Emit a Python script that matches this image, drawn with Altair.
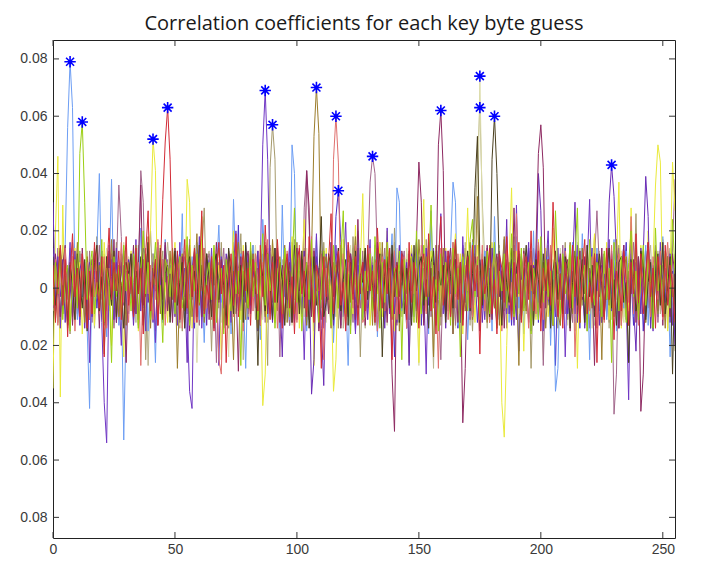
import altair as alt
import pandas as pd

title_text = "Correlation coefficients for each key byte guess"

x_ticks = [0, 50, 100, 150, 200, 250]
y_ticks = [-0.08, -0.06, -0.04, -0.02, 0, 0.02, 0.04, 0.06, 0.08]

# correlation values, in thousandths, one list per key byte (256 guesses each)
s01 = [12, -4, 7, -9, 3, 15, 56, 79, 63, 2, -11, 6, -3, 9, -14, -42,
       5, -8, 13, 40, -2, 8, -17, 4, 38, -6, 11, -13, 2, -53, -10, 7,
       -5, 14, -9, 3, 21, -7, 10, -15, 6, -1, -26, 9, 4, -12, 17, -3,
       8, -10, 2, 13, -6, 26, -14, 5, -2, 11, -8, 16, -11, 3, -19, 7,
       -4, 10, -13, 6, 22, -5, 1, -9, 14, -16, 31, 3, -7, 12, -2, -28,
       9, -6, 15, -1, 4, -18, 24, 7, -10, 2, 12, -8, 5, -14, 29, -3,
       6, -11, 50, 40, -7, 13, -2, 8, -15, 3, 11, -5, 18, -9, 1, -12,
       10, -3, 16, -19, 4, 7, -8, 14, -1, -27, 9, 5, -13, 20, -4, 2,
       -9, 12, 3, -6, 15, -17, 8, -2, 11, -7, 4, 19, -11, 35, 30, -8,
       5, -14, 9, 1, -10, 17, -5, 12, -3, 6, -16, 27, -1, 8, -12, 3,
       11, -7, 4, 14, 37, 30, -13, 6, -2, 10, -18, 3, 16, -6, 9, -11,
       2, 13, -9, 7, -15, 25, -4, 10, -8, 1, 15, -12, 6, -3, 18, -7,
       9, -16, 4, 12, -5, 20, -10, 3, 8, -14, 1, 11, -20, 6, -36, -28,
       7, -3, 13, -9, 2, 16, -12, 5, -6, 19, -1, 8, -25, 10, -4, 14,
       -8, 3, 12, -11, 6, -2, 17, -15, 9, 1, -7, 13, -4, 23, -10, 5,
       11, -6, 2, 15, -13, 8, -1, 10, -9, 4, 18, -5, 7, -24, 3, 9]
s02 = [-6, 9, -2, 14, -11, 4, 8, -15, 3, 10, -7, 47, 58, 30, -4, 6,
       13, -9, 2, -5, 17, -12, 7, 1, -26, 11, -3, 8, -10, 15, -1, 5,
       -8, 12, 4, -14, 6, 20, -2, 9, -11, 3, 16, -6, 1, -19, 10, 7,
       -3, 14, -9, 5, 11, -7, 2, 18, -13, 8, -1, 12, -5, 25, -10, 4,
       9, -4, 15, -12, 3, 7, -16, 10, 1, -8, 13, -2, 6, -27, 11, 2,
       -7, 16, -3, 9, -11, 4, 19, -6, 12, -1, 8, -14, 5, 10, -9, 14,
       3, -10, 7, 28, -5, 12, -15, 2, 9, -4, 17, -8, 6, -12, 1, 13,
       -2, 8, -13, 15, 4, -7, 11, 27, -9, 5, -16, 10, 2, -6, 14, -11,
       6, -1, 12, -8, 18, 3, -14, 9, -5, 16, 1, -10, 7, -3, 13, -25,
       10, -6, 4, 11, -12, 20, 2, -9, 15, -4, 8, 29, -7, 3, -15, 12,
       -5, 9, 1, -13, 14, -2, 7, -24, 11, 4, -8, 17, 24, -3, 10, -11,
       8, -4, 13, -9, 2, 16, -14, 6, -1, 12, -7, 3, 19, -10, 5, -2,
       14, -8, 3, 9, -16, 7, 1, -11, 18, -5, 10, -3, 6, -13, 27, 4,
       -9, 12, -2, 5, 15, -7, 11, 28, -12, 3, 8, -15, 17, 1, -6, 9,
       2, -10, 13, -4, 7, -26, 16, 5, -8, 11, 1, -12, 9, 20, -3, 6,
       -11, 4, 15, -6, 10, 2, -14, 21, -1, 8, -9, 13, 3, -7, 24, 5]
s03 = [-35, 20, 46, -38, 29, -9, 6, -12, 3, 14, -5, 9, -16, 2, 11, -7,
       4, -13, 10, 1, -8, 16, -3, 7, -20, 12, 5, -10, 2, -24, 8, -4,
       13, -6, 9, -15, 3, 18, -11, 6, 21, 52, 41, -9, 15, -5, 2, -12,
       7, -3, 16, -10, 4, 12, -8, 38, 30, -14, 1, 9, -6, 17, -2, 11,
       -9, 5, 14, -4, 8, -25, 2, 11, -13, 6, 20, -7, 3, -11, 15, 1,
       -6, 12, -2, 9, -15, 4, -41, -30, 10, -5, 16, -12, 7, 1, -8, 14,
       3, -10, 18, -4, 11, -14, 6, 24, -8, 2, 13, -27, 9, -1, 5, -11,
       14, -7, 3, -36, -25, 10, -3, 17, -12, 6, 1, -9, 22, -5, 8, 33,
       -4, 11, -13, 5, 9, -2, 16, -10, 3, 20, -7, 12, -15, 4, -1, 8,
       10, -12, 6, 15, -5, 2, -26, 11, 31, -8, 4, 13, -3, 9, -14, 1,
       -7, 14, 3, -10, 8, 19, -4, 12, -16, 5, 28, -2, 9, -12, 15, 6,
       2, -9, 11, -5, 16, 4, -13, 7, -40, -52, -20, 10, 35, -6, 13, -3,
       8, -22, 5, 12, -1, 9, -11, 17, -6, 3, 14, -10, 1, 21, -8, 6,
       -13, 4, 10, -7, 15, -2, 8, -28, 11, 3, -5, 13, -9, 6, 19, -4,
       12, -6, 2, 16, -11, 7, -3, 9, 37, -14, 5, 11, -8, 28, -1, 4,
       -10, 15, 3, -7, 20, -2, 9, 36, 50, 44, -5, 12, -15, 6, 44, 27]
s04 = [8, -12, 3, 15, -6, 10, -17, 4, 19, -3, 7, -10, 12, 1, -14, 6,
       -9, 16, 2, -7, 11, -24, 5, 21, -4, 9, -1, 13, -11, 3, 18, -6,
       4, -10, 14, -2, 7, -16, 12, 27, -8, 3, 10, -13, 6, 31, 51, 63,
       45, 8, -5, 13, -11, 2, 17, -7, 9, -3, 14, -12, 5, 27, -9, 1,
       -4, 11, -15, 6, 16, -2, 8, -26, 3, 12, -6, 19, -10, 4, 13, -1,
       7, -13, 10, 1, -8, 15, -3, 22, 5, -11, 9, -5, 17, 2, -14, 6,
       12, -7, 4, -16, 9, 14, -2, 6, -10, 18, 1, -12, 8, 3, -28, 11,
       -3, 10, 26, -9, 5, 13, -6, 2, -15, 16, 7, -4, 11, -13, 4, 9,
       -8, 15, -1, 6, -12, 21, 3, -7, 10, -2, 14, -25, 5, 8, -9, 12,
       2, -11, 16, -5, 9, 1, -14, 7, 12, -3, 19, -8, 4, -16, 10, 25,
       -6, 3, 13, -10, 6, 17, -4, 9, -13, 2, 11, -7, 15, -1, 8, -23,
       10, -2, 5, 14, -9, 3, -16, 12, 7, -5, 18, 1, -11, 9, -3, 16,
       -12, 6, 11, -4, 20, -8, 2, 13, -15, 7, -1, 10, -6, 30, 4, -10,
       5, -14, 9, 1, -7, 15, -3, 11, -12, 6, 17, -9, 2, -5, 12, -26,
       8, 2, -11, 14, -4, 10, -18, 6, 1, -8, 13, 3, -13, 9, -2, 19,
       -5, 12, -9, 4, 16, -3, 7, -14, 11, 2, -10, 15, -6, 8, 1, -12]
s05 = [30, -6, 11, -14, 4, 9, -2, 16, -10, 7, 1, -13, 12, -5, 8, -26,
       6, 13, -3, 9, -12, -40, -54, 5, 10, -7, 14, -2, -20, 8, -9, 3,
       11, -5, 17, -11, 2, 8, -15, 12, -1, 6, -19, 10, 4, -8, 15, -3,
       -7, 9, 1, -13, 16, -4, 7, -10, -36, -42, 12, -2, 18, -14, 5, 10,
       -2, 14, -9, 4, -27, 11, 3, -6, 13, -12, 8, 20, -5, 2, -11, 15,
       6, -8, 12, 1, -15, 9, 50, 69, 45, 3, -10, 14, -4, 7, -13, 10,
       -1, 16, -7, 5, -11, 13, 2, -25, 9, -3, 11, -9, 19, -6, 4, -14,
       12, -4, 8, -10, 15, 1, -13, 6, 23, -8, 3, 10, -16, 14, -2, 7,
       -11, 5, 17, -6, 9, -15, 2, 12, -3, 21, -9, 4, 13, -12, 6, 1,
       8, -14, 3, 11, -5, 16, -10, 7, 1, -30, 10, -2, 14, -7, 5, 26,
       -9, 13, -1, 6, -16, 9, 4, -12, 18, -5, 11, 2, -8, 15, -3, 10,
       3, -11, 14, -6, 8, 1, -14, 12, -4, 17, -9, 5, 10, -13, 29, -2,
       11, -7, 4, 16, -12, 2, 9, -5, 13, -15, 6, 20, -8, 3, -10, 14,
       -4, 10, -24, 7, 1, 12, -9, 15, -2, 5, -13, 8, 31, -6, 11, -1,
       9, -12, 5, -3, 17, -8, 2, 13, -14, 6, 10, -5, -39, 15, -9, 4,
       -6, 14, 1, -10, 8, 3, -15, 11, -4, 16, -8, 6, -1, 12, -13, 9]
s06 = [-3, 9, -12, 6, 15, -7, 2, -16, 11, 4, -9, 13, -1, 7, -14, 10,
       5, -10, 18, -4, 8, -13, 3, 12, -6, 1, 16, -11, 7, -2, 14, -8,
       12, 2, -9, 15, -5, 10, -25, 6, 20, -3, 8, -12, 4, 13, -7, 1,
       -10, 7, 14, -2, 11, -15, 5, -8, 17, 2, -11, 9, -4, 12, 28, -6,
       4, -22, 8, 1, -7, 16, -3, 10, -14, 6, 13, -9, 2, 19, -5, 11,
       -8, 3, 15, -11, 7, -4, 12, 2, -27, 42, 57, 45, -6, 9, 1, -12,
       10, -5, 3, 17, -9, 6, -2, 14, -12, 8, 1, -15, 11, 4, -7, 16,
       -1, 12, -10, 5, 9, -14, 7, 2, -6, 13, -11, 18, -3, 8, -24, 6,
       14, -7, 2, 11, -13, 4, 16, -5, 9, -1, 12, -9, 21, 3, -12, 7,
       -4, 10, -26, 8, 1, 13, -8, 5, -11, 17, 3, -6, 10, -2, 15, -13,
       6, 1, 11, -9, 16, -3, 8, -12, 4, 14, -7, 2, -15, 10, 5, -4,
       12, -10, 3, 7, -5, 15, -13, 9, 1, -8, 13, -2, 6, 18, -11, 4,
       -7, 14, -1, 10, -28, 5, 11, -4, 8, -12, 2, 15, -9, 6, 1, -14,
       9, -3, 16, -11, 4, 12, -8, 2, 13, -6, 10, -15, 7, -1, 18, -10,
       3, 11, -7, 14, -12, 6, 1, -9, 15, -4, 9, 2, -13, 12, -5, 26,
       -11, 6, 13, -3, 8, -14, 4, 10, -7, 1, 17, -10, 5, 14, -2, -22]
s07 = [7, -11, 4, 13, -5, 10, -14, 2, 9, -3, 16, -8, 6, -12, 11, 1,
       -9, 14, -2, 8, 3, -23, 11, -6, 17, -1, 5, -10, 12, 4, -13, 9,
       2, -7, 15, -11, 6, 10, -3, 18, -14, 7, -1, 13, -9, 4, 11, -5,
       13, -4, 9, -28, 1, 12, -8, 5, 15, -10, 3, 19, -6, 8, -12, 2,
       -5, 10, -13, 7, 14, -2, 4, -9, 11, 1, -25, 8, 16, -4, 6, -11,
       9, -3, 12, 5, -14, 8, 1, -10, 13, -6, 17, 2, -8, 11, -1, 15,
       -12, 6, 3, -9, 16, -5, 10, 1, -13, 7, 12, 53, 70, 54, -4, 8,
       11, -2, -14, 9, 4, -7, 15, 2, -11, 13, -5, 6, 18, -9, 3, -1,
       -6, 12, 7, -13, 10, 1, -4, 16, -8, 5, 14, -11, 3, 9, -15, 6,
       4, -9, 13, -1, 8, -12, 17, 3, -6, 11, -3, 7, -24, 15, 2, -10,
       14, -5, 1, 10, -16, 6, 9, -2, 12, -8, 4, 16, -11, 3, 32, -6,
       -3, 8, -12, 15, 2, -7, 11, -13, 5, 18, -1, 9, -10, 13, 4, -27,
       10, 3, -8, 6, 13, -11, 1, 15, -5, 9, -14, 2, 11, -3, 7, -9,
       -13, 11, 5, -4, 16, -9, 8, 1, -12, 14, -2, 10, 4, -7, 12, 3,
       7, -25, 12, 2, -6, 9, -10, 17, 3, -13, 6, 11, -4, 8, -1, 14,
       -8, 4, 10, -12, 15, 1, -5, 13, -9, 6, 2, -14, 11, 5, -3, 9]
s08 = [-4, 10, -13, 6, 1, 14, -8, 3, 11, -15, 7, -2, 12, -6, 9, -11,
       8, -3, 15, -9, 4, 11, -14, 7, -1, 13, -10, 2, 16, -5, 6, -12,
       12, -7, 3, 9, -27, 5, 14, -2, 8, -11, 1, 17, -6, 10, -13, 4,
       -9, 13, 6, -4, 11, -14, 2, 15, -8, 7, -12, 3, 10, -1, 14, -7,
       5, -11, 9, 2, -25, -30, 8, -6, 13, 1, -10, 16, -3, 7, -15, 11,
       -2, 14, -8, 12, 3, -13, 9, -5, 17, -9, 4, 10, -14, 6, 1, -11,
       13, -6, 2, 8, -12, 15, -3, 11, -7, 5, 18, -10, 4, -1, 12, -25,
       7, 1, -9, 45, 60, 44, -5, 12, -13, 9, 2, -7, 15, -4, 10, -12,
       -10, 6, 14, -3, 9, -15, 4, 11, -8, 16, 1, -6, 13, -11, 5, 2,
       11, -14, 5, 10, -2, 7, -12, 15, 3, -9, 12, -4, 8, 1, -28, 14,
       -5, 9, -11, 3, 16, -7, 12, 2, -13, 8, -1, 14, -10, 6, 11, -3,
       15, -8, 4, -12, 7, 11, -2, 9, -15, 5, 13, -6, 2, -10, 26, 1,
       -7, 12, 1, -14, 10, 3, -9, 16, 6, -11, 8, -4, 15, -13, 4, 9,
       2, -10, 13, 7, -5, 14, -24, 4, 10, -3, 6, 12, -8, 11, -2, -14,
       10, 5, -12, 8, -1, 15, -7, 3, 12, -13, 9, 1, -5, 25, -9, 6,
       -13, 8, 3, -6, 14, -10, 11, 2, -4, 13, -11, 7, 16, -2, 5, -8]
s09 = [5, -8, 2, 11, -4, 7, -10, 3, 9, -6, 1, 12, -3, 6, -9, 4,
       -2, 10, -7, 5, 13, -11, 3, -5, 8, 1, -12, 6, 11, -4, 2, -9,
       9, -3, 6, -13, 4, 10, -1, 7, -8, 12, 2, -6, 5, -10, 14, -2,
       -6, 11, 1, -9, 7, 3, -12, 10, -4, 6, -14, 8, 2, -7, 12, 4,
       10, -5, 13, -2, 6, -10, 4, 8, -13, 1, 9, -3, 22, -8, 5, -1,
       -11, 7, 2, 12, -6, 9, -1, 4, -9, 14, 3, -12, 7, 1, -5, 11,
       3, -13, 8, -4, 10, 2, -7, 13, 5, -10, 6, -2, 9, -14, 4, 12,
       -8, 6, 11, -1, 25, 34, 16, -10, 7, 2, -13, 10, -5, 8, 3, -11,
       12, -4, 1, 9, -12, 5, 14, -7, 3, -9, 11, 6, -24, 4, -2, 10,
       -3, 8, -11, 14, 2, -6, 10, -13, 7, 1, 12, -8, 5, -4, 13, -1,
       6, -10, 4, -2, 11, 8, -14, 3, 9, -5, 1, 15, -9, 7, -12, 2,
       -7, 13, -3, 6, -9, 12, 1, -11, 5, 10, -4, 2, -13, 9, 6, -22,
       11, 2, -8, 14, -5, 3, 9, -12, 4, -1, 13, -6, 8, 1, -27, 7,
       -4, 9, 5, -10, 12, -2, 6, 3, -14, 11, 7, -9, 2, 14, -6, 1,
       8, -12, 3, 10, -7, 13, -1, 5, -11, 6, 2, 16, -8, 4, -13, 9,
       -1, 7, -15, 4, 11, -5, 8, 2, -10, 12, -3, 6, 13, -9, 1, 10]
s10 = [9, -5, 14, -10, 3, 8, -13, 1, 16, -7, 4, -11, 10, 2, -8, 13,
       -12, 6, 1, 15, -4, 10, -9, 3, 12, -14, 7, 36, 18, -6, 9, -2,
       4, -11, 11, 2, 41, 30, -7, 12, -3, 9, -15, 5, 13, -8, 1, 10,
       -6, 14, -1, 7, -12, 3, 11, -9, 17, -4, 6, 1, -13, 10, -2, 8,
       12, -8, 5, -26, 9, 2, 14, -6, 4, -11, 16, -3, 7, 12, -10, 3,
       -9, 11, 3, -7, 13, -2, 8, -12, 6, 15, -5, 1, 10, -24, 4, 9,
       2, -13, 16, 6, -4, 11, -10, 28, 41, 22, -8, 14, -1, 7, -11, 5,
       10, -6, 3, -14, 8, 12, -3, 5, -9, 15, 1, -12, 9, 4, -7, 13,
       -5, 8, 37, 46, 40, 10, -11, 3, 14, -8, 6, -2, 11, -13, 1, 7,
       13, -9, 2, 10, -6, 15, -12, 4, 9, -1, 16, -10, 5, 11, -4, -25,
       6, 11, -8, 3, 14, -13, 1, 9, -5, 12, 4, -11, 17, -2, 8, -7,
       -3, 10, 5, -12, 7, 1, -9, 13, -4, 11, -14, 6, 2, 15, -8, 3,
       12, -6, 8, 2, -11, 14, 4, -7, 10, -27, 6, 1, 13, -3, 9, -10,
       -1, 15, -9, 7, 3, -12, 11, 5, -6, 13, -2, 8, -14, 4, 10, 27,
       7, -4, 12, -10, 1, 9, -44, -30, 14, -8, 5, 11, -13, 3, 16, -5,
       -10, 6, 2, 13, -7, 10, -3, 15, -12, 4, 8, -1, 11, -9, 14, 38]
s11 = [-7, 12, 3, -10, 8, 15, -4, 9, -13, 5, 1, -9, 14, -2, 7, -11,
       10, -3, 6, -14, 11, 2, -8, 13, -5, 17, -12, 4, 9, -1, -26, 6,
       -2, 15, -9, 8, 36, -6, 12, 1, -11, 7, 3, -13, 10, -4, 16, -8,
       5, -12, 14, 2, -7, 11, -3, 9, -15, 6, 13, -1, 8, -10, 4, 12,
       -11, 7, 1, 16, -5, 10, -14, 3, 12, -8, 6, 2, -29, 11, -3, 9,
       13, -6, 10, -2, 7, -13, 4, 15, -9, 1, 11, -5, 14, -12, 8, 3,
       -4, 9, -12, 6, 14, -1, 10, -7, 41, 28, -10, 13, 4, -15, 7, 11,
       2, -9, 16, -3, 8, 5, -14, 10, 1, -6, 12, 3, -11, 24, -2, 9,
       -13, 6, 11, -5, 2, 14, -8, 10, 4, -12, 7, -30, -50, 9, -3, 13,
       8, -2, 12, -10, 5, 16, 44, 30, -13, 6, 11, -4, 9, 1, 50, 62,
       41, -9, 7, 14, -4, 10, -12, 3, -47, -28, 8, 13, -6, 11, 2, -15,
       9, -5, 15, 1, -11, 7, 12, -3, 6, -14, 10, 4, -8, 28, -1, 11,
       -6, 13, 3, -12, 9, -2, 14, 47, 57, 42, -7, 10, 1, -13, 8, 5,
       12, -8, 4, 10, -15, 6, 2, -9, 13, -4, 11, -11, 7, 3, -27, 9,
       -3, 14, -10, 8, 1, 12, -5, 9, -14, 4, 15, -7, 6, -2, 10, -12,
       11, -43, -30, 6, 16, -8, 3, 13, -4, 9, -13, 7, 1, -10, 12, 4]
s12 = [6, -10, 13, 2, -7, 11, -3, 8, -12, 4, 15, -6, 1, 9, -14, 7,
       -4, 12, -1, 9, -11, 5, 14, -8, 3, -13, 10, 2, -6, 16, -2, 11,
       8, -5, 10, -14, 6, 1, -9, 13, 4, -7, 11, -2, 15, -12, 5, -3,
       12, 2, -8, 7, -13, 14, 3, -6, 10, -1, 9, -26, 4, 11, -5, 6,
       -9, 13, 5, -3, 10, -12, 8, 1, -24, 7, 12, -4, 2, 14, -10, 3,
       11, -7, 4, 15, -2, 9, -11, 6, -5, 13, 1, -9, 16, -3, 8, -13,
       3, 10, -13, 5, 12, -6, 2, -10, 14, 1, -8, 11, -4, 7, 13, -2,
       -12, 6, 9, -4, 11, 3, -14, 12, 7, -9, 15, -1, 5, -11, 10, 2,
       8, -3, 13, -10, 4, 16, -7, 1, 11, -13, 6, 9, -2, 14, -9, 5,
       -6, 14, 2, -11, 9, 4, -27, 10, -1, 7, 12, -8, 3, -12, 13, -4,
       10, -2, 7, -9, 15, -14, 5, 11, -6, 2, 13, -10, 8, 1, 20, 74,
       25, -6, 12, -11, 4, 9, -3, 14, -8, 6, -13, 1, 10, -5, 15, -9,
       5, 11, -7, 3, 13, -12, 8, -1, 6, -25, 12, 2, -9, 10, 4, -11,
       14, -4, 9, -13, 1, 7, -10, 16, 3, -6, 11, -2, 13, -14, 6, 8,
       -8, 12, 2, -5, 15, -11, 4, 9, -3, 13, -12, 7, 1, 10, -7, 3,
       11, -9, 6, 14, -2, 5, -13, 8, 12, -4, 1, -10, 15, 3, -6, 9]
s13 = [-8, 4, 11, -13, 7, 2, -6, 14, -10, 9, 3, -12, 6, -1, 13, -5,
       10, -14, 5, 1, -9, 12, 7, -3, 15, -11, 4, 8, -13, 2, 11, -7,
       -1, 9, -12, 14, 3, -6, 10, -27, 5, 12, -4, 1, 8, -10, 6, 16,
       4, -8, 2, 11, -14, 7, 13, -2, -9, 5, 15, -6, 9, 3, -12, 10,
       13, -4, 8, -11, 2, 14, -7, 6, 10, -13, 1, 9, -5, 12, -25, 4,
       -10, 7, -3, 12, 9, -8, 1, 16, -12, 4, 11, -6, 3, -14, 10, 2,
       6, -12, 14, -1, -9, 10, 4, -5, 12, -11, 7, 2, 15, -8, 1, -13,
       9, 3, -7, 13, -10, 6, 11, -14, 2, 8, -4, 14, -11, 5, 12, -3,
       -14, 10, 5, -2, 13, -9, 7, 3, -12, 11, 1, -6, 16, -4, 8, -10,
       2, 12, -11, 6, -4, 15, -13, 9, 4, -7, 10, 1, -28, 13, -1, 7,
       11, -6, 3, 14, -12, 8, -2, 10, -9, 16, 5, -13, 7, 20, 45, 63,
       30, 9, -14, 4, 12, -7, 1, 15, -10, 6, 13, -3, 8, -12, 2, 11,
       -5, 14, -9, 10, 1, -13, 12, 5, -7, 9, -2, 15, -11, 3, 13, -8,
       7, -11, 12, 2, -6, 10, -15, 4, 14, -3, 8, -9, 11, 1, -13, 6,
       13, 1, -8, 11, -14, 5, 9, -4, 2, 12, -10, 6, -26, 14, 3, -7,
       -2, 10, 4, -12, 8, 15, -6, 1, 13, -9, 5, 11, -14, 7, -3, 12]
s14 = [11, -6, 2, 14, -9, 5, -13, 8, 1, -11, 12, 3, -7, 10, -15, 6,
       -3, 9, 15, -8, 4, -12, 11, 2, -6, 13, -10, 7, 1, -14, 9, 4,
       12, -9, 6, -2, 11, -13, 3, 16, -7, 1, 10, -4, 14, -11, 5, 8,
       -12, 5, 13, -6, 2, 9, -14, 7, 11, -3, 6, -10, 15, 1, -8, 12,
       3, -10, 9, 12, -4, 7, 1, -13, 14, 5, -9, 11, -2, 8, -12, 16,
       -7, 13, -1, 6, -27, 10, 4, -8, 12, 2, -11, 14, -5, 9, 3, -13,
       10, 2, -12, 15, 6, -9, 13, -3, 8, -14, 1, 11, -6, 4, 25, -10,
       -5, 12, 7, -11, 1, 14, -8, 3, 10, -13, 9, -2, 13, -7, 5, 2,
       14, -4, 9, 1, -10, 6, 12, -24, 4, 11, -7, 15, -3, 8, -12, 10,
       -9, 7, 2, -13, 15, -1, 8, 11, -6, 3, -14, 9, 13, -5, 6, 1,
       8, -12, 11, 4, -7, 16, -3, 9, -11, 2, 13, -8, 5, 35, 53, 10,
       -6, 11, 1, -10, 45, 60, 40, 6, -13, 9, 2, -5, 14, -9, 7, 12,
       -11, 4, 15, -2, 8, -13, 10, 3, -7, 12, -1, 9, -14, 6, 13, -4,
       5, -9, 11, 7, -14, 2, 13, -6, 1, 10, -12, 15, -3, 8, -10, 4,
       12, 1, -10, 6, 14, -7, 3, -13, 9, 11, -5, 2, -26, 10, 4, -8,
       -4, 13, 8, -11, 2, 9, -14, 5, 12, -6, 16, -9, 1, 11, -30, 7]
s15 = [14, -8, 5, -3, 10, -12, 7, 1, -9, 13, -4, 6, 11, -14, 2, 9,
       -10, 3, 12, -6, 8, 1, -13, 15, 4, -11, 9, -2, 6, 13, -7, 10,
       5, -13, 1, 9, -8, 14, 11, -5, 2, -12, 7, 16, -3, 10, -9, 4,
       -2, 11, -10, 6, 13, -4, 2, -26, 9, 5, -11, 12, 1, -6, 14, -13,
       8, 3, -14, 11, -1, 9, -7, 12, 5, -10, 2, 15, -8, 4, 10, -5,
       12, -9, 6, 2, 13, -11, 8, -4, 14, 1, -12, 7, 10, -3, -24, 9,
       -7, 15, 3, -12, 10, 1, -9, 13, -5, 6, -37, -25, 11, 4, -14, -34,
       6, -1, 11, -13, 3, 14, -8, 9, 2, -10, 12, 5, -15, 8, 1, -6,
       13, -11, 4, 8, -5, 16, -2, 10, -14, 7, 1, 12, -9, 3, 15, -7,
       -3, 9, -27, 12, 6, -8, 11, 2, -12, 14, -6, 4, 9, -13, 1, 10,
       7, -14, 13, 1, -9, 10, 5, -11, 15, -4, 8, 3, -10, 12, -2, 6,
       -12, 5, 9, -7, 14, 2, -13, 11, 4, -3, 24, -9, 7, 1, -11, 13,
       3, 10, -6, 13, -15, 8, 1, 40, 27, -10, 6, -4, 12, -13, 9, -1,
       11, -5, 14, -9, 2, 7, 30, -12, 10, 4, -14, 15, -2, 6, -8, 12,
       -13, 8, 1, -4, 30, 43, 32, 11, -9, 5, 15, -11, 3, 12, -6, -22,
       7, -9, 12, 39, 25, -14, 4, 10, -8, 13, 2, -5, 11, -12, 6, -20]

series = [s01, s02, s03, s04, s05, s06, s07, s08, s09, s10, s11, s12, s13, s14, s15]
series_colors = ["#6d9ef4", "#9ccf14", "#eaea3c", "#d22b36", "#7036c4",
                 "#a69a6c", "#9c7d2c", "#e0706e", "#4b2fc8", "#a3678c",
                 "#8e2a62", "#dcdcaa", "#b9b38c", "#4a3f1e", "#6a2cb6"]
draw_order = [9, 13, 12, 6, 10, 1, 3, 15, 5, 7, 11, 8, 14, 2, 4]

bad = [(i + 1, len(s)) for i, s in enumerate(series) if len(s) != 256]
if bad:
    raise ValueError(f"bad lengths: {bad}")

rows = []
names = []
cols = []
for rank, idx in enumerate(draw_order):
    name = f"g{rank:02d}"
    names.append(name)
    cols.append(series_colors[idx - 1])
    for x, v in enumerate(series[idx - 1]):
        rows.append((x, v / 1000.0, name, rank))
df = pd.DataFrame(rows, columns=["x", "y", "s", "o"])

# best guess of each key byte = maximum of its curve
peaks = []
for vals in series:
    m = max(vals)
    peaks.append((vals.index(m), m / 1000.0))
peak_df = pd.DataFrame(peaks, columns=["x", "y"])

W, H = 622, 498
x_scale = alt.Scale(domain=[0, 255], nice=False, zero=False)
y_scale = alt.Scale(domain=[-0.0872, 0.0866], nice=False, zero=False)
label_font = "Liberation Sans"

x_axis = alt.Axis(values=x_ticks, ticks=False, domain=False, grid=False, title=None,
                  labelFont=label_font, labelFontSize=14, labelColor="#3a3a3a",
                  labelFontWeight="normal", labelPadding=4, labelFlush=False)
y_axis = alt.Axis(values=y_ticks, ticks=False, domain=False, grid=False, title=None,
                  labelFont=label_font, labelFontSize=14, labelColor="#3a3a3a",
                  labelFontWeight="normal", labelPadding=6, minExtent=40, maxExtent=40,
                  labelExpr="datum.value == 0 ? '0' : format(abs(datum.value), '.2f')")

X = lambda f: alt.X(f, scale=x_scale, axis=x_axis)
Y = lambda f: alt.Y(f, scale=y_scale, axis=y_axis)

lines = alt.Chart(df).mark_line(strokeWidth=1, clip=True).encode(
    x=X("x:Q"),
    y=Y("y:Q"),
    color=alt.Color("s:N", scale=alt.Scale(domain=names, range=cols), legend=None),
    order=alt.Order("x:Q"),
)

star_path = "M-1,0L1,0M0,-1L0,1M-0.7,-0.7L0.7,0.7M-0.7,0.7L0.7,-0.7"
stars = alt.Chart(peak_df).mark_point(
    shape=star_path, filled=False, stroke="#0000ff", strokeWidth=1.6, size=130, opacity=1
).encode(x=X("x:Q"), y=Y("y:Q"))
dots = alt.Chart(peak_df).mark_point(
    shape="circle", filled=True, color="#0000ff", size=14, opacity=1
).encode(x=X("x:Q"), y=Y("y:Q"))

xt = pd.DataFrame({"v": x_ticks})
yt = pd.DataFrame({"v": y_ticks})
tick_color = "#333333"
xb = alt.Chart(xt).mark_rule(color=tick_color, strokeWidth=1).encode(
    x=X("v:Q"), y=alt.value(H), y2=alt.value(H - 6))
xtop = alt.Chart(xt).mark_rule(color=tick_color, strokeWidth=1).encode(
    x=X("v:Q"), y=alt.value(0), y2=alt.value(6))
yl = alt.Chart(yt).mark_rule(color=tick_color, strokeWidth=1).encode(
    y=Y("v:Q"), x=alt.value(0), x2=alt.value(6))
yr = alt.Chart(yt).mark_rule(color=tick_color, strokeWidth=1).encode(
    y=Y("v:Q"), x=alt.value(W), x2=alt.value(W - 6))

chart = alt.layer(lines, xb, xtop, yl, yr, stars, dots).properties(
    width=W, height=H,
    title=alt.TitleParams(title_text, font="Open Sans", fontSize=20, fontWeight="normal",
                          color="#1a1a1a", anchor="middle", offset=6),
    padding={"left": 5, "top": 5, "right": 10, "bottom": 2},
).configure_view(stroke="#222222", strokeWidth=1).configure_axis(
    labelFont=label_font, labelFontSize=14, labelColor="#3a3a3a"
)

chart.save("out.html", embed_options={"renderer": "svg", "actions": False})
